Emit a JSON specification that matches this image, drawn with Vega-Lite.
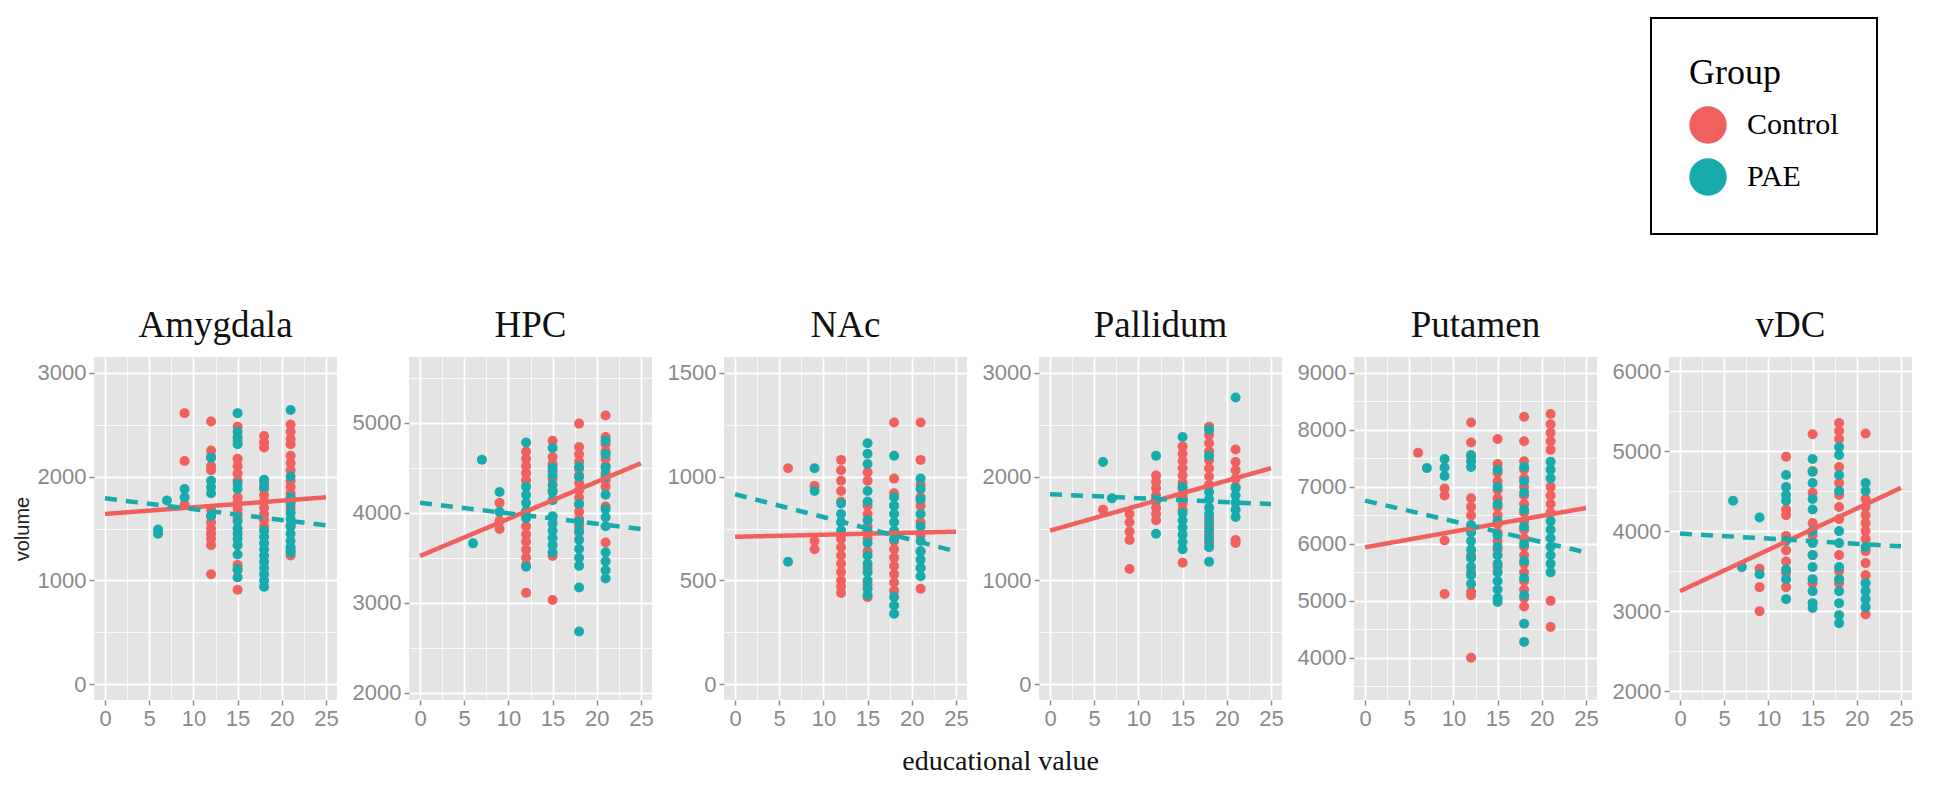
{
  "$schema": "https://vega.github.io/schema/vega-lite/v6.json",
  "padding": {"left": 12, "top": 17, "right": 5, "bottom": 5},
  "background": "white",
  "datasets": {
    "pts": [
      {"region":"Amygdala","group":"Control","edu":9,"volume":2610},{"region":"Amygdala","group":"Control","edu":9,"volume":2150},{"region":"Amygdala","group":"Control","edu":9,"volume":1730},
      {"region":"Amygdala","group":"Control","edu":12,"volume":2530},{"region":"Amygdala","group":"Control","edu":12,"volume":2250},{"region":"Amygdala","group":"Control","edu":12,"volume":2190},{"region":"Amygdala","group":"Control","edu":12,"volume":2100},{"region":"Amygdala","group":"Control","edu":12,"volume":2060},{"region":"Amygdala","group":"Control","edu":12,"volume":1680},{"region":"Amygdala","group":"Control","edu":12,"volume":1620},{"region":"Amygdala","group":"Control","edu":12,"volume":1560},{"region":"Amygdala","group":"Control","edu":12,"volume":1500},{"region":"Amygdala","group":"Control","edu":12,"volume":1450},{"region":"Amygdala","group":"Control","edu":12,"volume":1400},{"region":"Amygdala","group":"Control","edu":12,"volume":1340},{"region":"Amygdala","group":"Control","edu":12,"volume":1060},
      {"region":"Amygdala","group":"Control","edu":15,"volume":2480},{"region":"Amygdala","group":"Control","edu":15,"volume":2350},{"region":"Amygdala","group":"Control","edu":15,"volume":2170},{"region":"Amygdala","group":"Control","edu":15,"volume":2100},{"region":"Amygdala","group":"Control","edu":15,"volume":2030},{"region":"Amygdala","group":"Control","edu":15,"volume":1960},{"region":"Amygdala","group":"Control","edu":15,"volume":1800},{"region":"Amygdala","group":"Control","edu":15,"volume":1750},{"region":"Amygdala","group":"Control","edu":15,"volume":1690},{"region":"Amygdala","group":"Control","edu":15,"volume":1640},{"region":"Amygdala","group":"Control","edu":15,"volume":1600},{"region":"Amygdala","group":"Control","edu":15,"volume":1150},{"region":"Amygdala","group":"Control","edu":15,"volume":1100},{"region":"Amygdala","group":"Control","edu":15,"volume":910},
      {"region":"Amygdala","group":"Control","edu":18,"volume":2390},{"region":"Amygdala","group":"Control","edu":18,"volume":2330},{"region":"Amygdala","group":"Control","edu":18,"volume":2280},{"region":"Amygdala","group":"Control","edu":18,"volume":1940},{"region":"Amygdala","group":"Control","edu":18,"volume":1880},{"region":"Amygdala","group":"Control","edu":18,"volume":1820},{"region":"Amygdala","group":"Control","edu":18,"volume":1760},{"region":"Amygdala","group":"Control","edu":18,"volume":1700},{"region":"Amygdala","group":"Control","edu":18,"volume":1640},{"region":"Amygdala","group":"Control","edu":18,"volume":1580},{"region":"Amygdala","group":"Control","edu":18,"volume":1520},
      {"region":"Amygdala","group":"Control","edu":21,"volume":2500},{"region":"Amygdala","group":"Control","edu":21,"volume":2430},{"region":"Amygdala","group":"Control","edu":21,"volume":2360},{"region":"Amygdala","group":"Control","edu":21,"volume":2310},{"region":"Amygdala","group":"Control","edu":21,"volume":2200},{"region":"Amygdala","group":"Control","edu":21,"volume":2130},{"region":"Amygdala","group":"Control","edu":21,"volume":2060},{"region":"Amygdala","group":"Control","edu":21,"volume":1960},{"region":"Amygdala","group":"Control","edu":21,"volume":1900},{"region":"Amygdala","group":"Control","edu":21,"volume":1840},{"region":"Amygdala","group":"Control","edu":21,"volume":1780},{"region":"Amygdala","group":"Control","edu":21,"volume":1700},{"region":"Amygdala","group":"Control","edu":21,"volume":1530},{"region":"Amygdala","group":"Control","edu":21,"volume":1290},{"region":"Amygdala","group":"Control","edu":21,"volume":1240},
      {"region":"Amygdala","group":"PAE","edu":6,"volume":1490},{"region":"Amygdala","group":"PAE","edu":6,"volume":1450},{"region":"Amygdala","group":"PAE","edu":7,"volume":1770},{"region":"Amygdala","group":"PAE","edu":9,"volume":1880},{"region":"Amygdala","group":"PAE","edu":9,"volume":1800},
      {"region":"Amygdala","group":"PAE","edu":12,"volume":2180},{"region":"Amygdala","group":"PAE","edu":12,"volume":1960},{"region":"Amygdala","group":"PAE","edu":12,"volume":1900},{"region":"Amygdala","group":"PAE","edu":12,"volume":1840},{"region":"Amygdala","group":"PAE","edu":12,"volume":1620},
      {"region":"Amygdala","group":"PAE","edu":15,"volume":2610},{"region":"Amygdala","group":"PAE","edu":15,"volume":2430},{"region":"Amygdala","group":"PAE","edu":15,"volume":2380},{"region":"Amygdala","group":"PAE","edu":15,"volume":2310},{"region":"Amygdala","group":"PAE","edu":15,"volume":1930},{"region":"Amygdala","group":"PAE","edu":15,"volume":1880},{"region":"Amygdala","group":"PAE","edu":15,"volume":1570},{"region":"Amygdala","group":"PAE","edu":15,"volume":1500},{"region":"Amygdala","group":"PAE","edu":15,"volume":1450},{"region":"Amygdala","group":"PAE","edu":15,"volume":1400},{"region":"Amygdala","group":"PAE","edu":15,"volume":1340},{"region":"Amygdala","group":"PAE","edu":15,"volume":1250},{"region":"Amygdala","group":"PAE","edu":15,"volume":1110},{"region":"Amygdala","group":"PAE","edu":15,"volume":1030},
      {"region":"Amygdala","group":"PAE","edu":18,"volume":1970},{"region":"Amygdala","group":"PAE","edu":18,"volume":1900},{"region":"Amygdala","group":"PAE","edu":18,"volume":1480},{"region":"Amygdala","group":"PAE","edu":18,"volume":1420},{"region":"Amygdala","group":"PAE","edu":18,"volume":1360},{"region":"Amygdala","group":"PAE","edu":18,"volume":1300},{"region":"Amygdala","group":"PAE","edu":18,"volume":1240},{"region":"Amygdala","group":"PAE","edu":18,"volume":1180},{"region":"Amygdala","group":"PAE","edu":18,"volume":1120},{"region":"Amygdala","group":"PAE","edu":18,"volume":1060},{"region":"Amygdala","group":"PAE","edu":18,"volume":1000},{"region":"Amygdala","group":"PAE","edu":18,"volume":940},
      {"region":"Amygdala","group":"PAE","edu":21,"volume":2640},{"region":"Amygdala","group":"PAE","edu":21,"volume":2000},{"region":"Amygdala","group":"PAE","edu":21,"volume":1800},{"region":"Amygdala","group":"PAE","edu":21,"volume":1740},{"region":"Amygdala","group":"PAE","edu":21,"volume":1650},{"region":"Amygdala","group":"PAE","edu":21,"volume":1590},{"region":"Amygdala","group":"PAE","edu":21,"volume":1520},{"region":"Amygdala","group":"PAE","edu":21,"volume":1450},{"region":"Amygdala","group":"PAE","edu":21,"volume":1380},{"region":"Amygdala","group":"PAE","edu":21,"volume":1320},{"region":"Amygdala","group":"PAE","edu":21,"volume":1270},

      {"region":"HPC","group":"Control","edu":9,"volume":4110},{"region":"HPC","group":"Control","edu":9,"volume":3910},{"region":"HPC","group":"Control","edu":9,"volume":3820},
      {"region":"HPC","group":"Control","edu":12,"volume":4680},{"region":"HPC","group":"Control","edu":12,"volume":4600},{"region":"HPC","group":"Control","edu":12,"volume":4520},{"region":"HPC","group":"Control","edu":12,"volume":4440},{"region":"HPC","group":"Control","edu":12,"volume":4360},{"region":"HPC","group":"Control","edu":12,"volume":3850},{"region":"HPC","group":"Control","edu":12,"volume":3760},{"region":"HPC","group":"Control","edu":12,"volume":3680},{"region":"HPC","group":"Control","edu":12,"volume":3590},{"region":"HPC","group":"Control","edu":12,"volume":3500},{"region":"HPC","group":"Control","edu":12,"volume":3420},{"region":"HPC","group":"Control","edu":12,"volume":3110},
      {"region":"HPC","group":"Control","edu":15,"volume":4800},{"region":"HPC","group":"Control","edu":15,"volume":4620},{"region":"HPC","group":"Control","edu":15,"volume":4540},{"region":"HPC","group":"Control","edu":15,"volume":4460},{"region":"HPC","group":"Control","edu":15,"volume":4380},{"region":"HPC","group":"Control","edu":15,"volume":4250},{"region":"HPC","group":"Control","edu":15,"volume":3520},{"region":"HPC","group":"Control","edu":15,"volume":3030},
      {"region":"HPC","group":"Control","edu":18,"volume":4990},{"region":"HPC","group":"Control","edu":18,"volume":4730},{"region":"HPC","group":"Control","edu":18,"volume":4650},{"region":"HPC","group":"Control","edu":18,"volume":4570},{"region":"HPC","group":"Control","edu":18,"volume":4490},{"region":"HPC","group":"Control","edu":18,"volume":4410},{"region":"HPC","group":"Control","edu":18,"volume":4330},{"region":"HPC","group":"Control","edu":18,"volume":4250},{"region":"HPC","group":"Control","edu":18,"volume":4170},{"region":"HPC","group":"Control","edu":18,"volume":4090},{"region":"HPC","group":"Control","edu":18,"volume":4010},{"region":"HPC","group":"Control","edu":18,"volume":3930},{"region":"HPC","group":"Control","edu":18,"volume":3850},{"region":"HPC","group":"Control","edu":18,"volume":3780},
      {"region":"HPC","group":"Control","edu":21,"volume":5080},{"region":"HPC","group":"Control","edu":21,"volume":4840},{"region":"HPC","group":"Control","edu":21,"volume":4760},{"region":"HPC","group":"Control","edu":21,"volume":4680},{"region":"HPC","group":"Control","edu":21,"volume":4600},{"region":"HPC","group":"Control","edu":21,"volume":4520},{"region":"HPC","group":"Control","edu":21,"volume":4440},{"region":"HPC","group":"Control","edu":21,"volume":4360},{"region":"HPC","group":"Control","edu":21,"volume":4290},{"region":"HPC","group":"Control","edu":21,"volume":4070},{"region":"HPC","group":"Control","edu":21,"volume":3670},
      {"region":"HPC","group":"PAE","edu":6,"volume":3660},{"region":"HPC","group":"PAE","edu":7,"volume":4590},{"region":"HPC","group":"PAE","edu":9,"volume":4230},{"region":"HPC","group":"PAE","edu":9,"volume":4010},
      {"region":"HPC","group":"PAE","edu":12,"volume":4780},{"region":"HPC","group":"PAE","edu":12,"volume":4290},{"region":"HPC","group":"PAE","edu":12,"volume":4200},{"region":"HPC","group":"PAE","edu":12,"volume":4110},{"region":"HPC","group":"PAE","edu":12,"volume":4020},{"region":"HPC","group":"PAE","edu":12,"volume":3940},{"region":"HPC","group":"PAE","edu":12,"volume":3400},
      {"region":"HPC","group":"PAE","edu":15,"volume":4720},{"region":"HPC","group":"PAE","edu":15,"volume":4500},{"region":"HPC","group":"PAE","edu":15,"volume":4420},{"region":"HPC","group":"PAE","edu":15,"volume":4310},{"region":"HPC","group":"PAE","edu":15,"volume":4230},{"region":"HPC","group":"PAE","edu":15,"volume":4140},{"region":"HPC","group":"PAE","edu":15,"volume":3960},{"region":"HPC","group":"PAE","edu":15,"volume":3880},{"region":"HPC","group":"PAE","edu":15,"volume":3800},{"region":"HPC","group":"PAE","edu":15,"volume":3720},{"region":"HPC","group":"PAE","edu":15,"volume":3640},{"region":"HPC","group":"PAE","edu":15,"volume":3560},
      {"region":"HPC","group":"PAE","edu":18,"volume":4510},{"region":"HPC","group":"PAE","edu":18,"volume":4400},{"region":"HPC","group":"PAE","edu":18,"volume":4100},{"region":"HPC","group":"PAE","edu":18,"volume":3900},{"region":"HPC","group":"PAE","edu":18,"volume":3800},{"region":"HPC","group":"PAE","edu":18,"volume":3700},{"region":"HPC","group":"PAE","edu":18,"volume":3600},{"region":"HPC","group":"PAE","edu":18,"volume":3500},{"region":"HPC","group":"PAE","edu":18,"volume":3410},{"region":"HPC","group":"PAE","edu":18,"volume":3170},{"region":"HPC","group":"PAE","edu":18,"volume":2680},
      {"region":"HPC","group":"PAE","edu":21,"volume":4800},{"region":"HPC","group":"PAE","edu":21,"volume":4650},{"region":"HPC","group":"PAE","edu":21,"volume":4500},{"region":"HPC","group":"PAE","edu":21,"volume":4400},{"region":"HPC","group":"PAE","edu":21,"volume":4200},{"region":"HPC","group":"PAE","edu":21,"volume":4040},{"region":"HPC","group":"PAE","edu":21,"volume":3950},{"region":"HPC","group":"PAE","edu":21,"volume":3850},{"region":"HPC","group":"PAE","edu":21,"volume":3560},{"region":"HPC","group":"PAE","edu":21,"volume":3460},{"region":"HPC","group":"PAE","edu":21,"volume":3360},{"region":"HPC","group":"PAE","edu":21,"volume":3270},

      {"region":"NAc","group":"Control","edu":6,"volume":1040},{"region":"NAc","group":"Control","edu":9,"volume":955},{"region":"NAc","group":"Control","edu":9,"volume":690},{"region":"NAc","group":"Control","edu":9,"volume":650},
      {"region":"NAc","group":"Control","edu":12,"volume":1080},{"region":"NAc","group":"Control","edu":12,"volume":1030},{"region":"NAc","group":"Control","edu":12,"volume":980},{"region":"NAc","group":"Control","edu":12,"volume":930},{"region":"NAc","group":"Control","edu":12,"volume":880},{"region":"NAc","group":"Control","edu":12,"volume":700},{"region":"NAc","group":"Control","edu":12,"volume":660},{"region":"NAc","group":"Control","edu":12,"volume":620},{"region":"NAc","group":"Control","edu":12,"volume":580},{"region":"NAc","group":"Control","edu":12,"volume":540},{"region":"NAc","group":"Control","edu":12,"volume":500},{"region":"NAc","group":"Control","edu":12,"volume":470},{"region":"NAc","group":"Control","edu":12,"volume":440},
      {"region":"NAc","group":"Control","edu":15,"volume":1020},{"region":"NAc","group":"Control","edu":15,"volume":980},{"region":"NAc","group":"Control","edu":15,"volume":860},{"region":"NAc","group":"Control","edu":15,"volume":820},{"region":"NAc","group":"Control","edu":15,"volume":760},{"region":"NAc","group":"Control","edu":15,"volume":700},{"region":"NAc","group":"Control","edu":15,"volume":640},{"region":"NAc","group":"Control","edu":15,"volume":560},{"region":"NAc","group":"Control","edu":15,"volume":480},{"region":"NAc","group":"Control","edu":15,"volume":420},
      {"region":"NAc","group":"Control","edu":18,"volume":1260},{"region":"NAc","group":"Control","edu":18,"volume":990},{"region":"NAc","group":"Control","edu":18,"volume":920},{"region":"NAc","group":"Control","edu":18,"volume":690},{"region":"NAc","group":"Control","edu":18,"volume":650},{"region":"NAc","group":"Control","edu":18,"volume":610},{"region":"NAc","group":"Control","edu":18,"volume":570},{"region":"NAc","group":"Control","edu":18,"volume":530},{"region":"NAc","group":"Control","edu":18,"volume":490},{"region":"NAc","group":"Control","edu":18,"volume":450},
      {"region":"NAc","group":"Control","edu":21,"volume":1260},{"region":"NAc","group":"Control","edu":21,"volume":1080},{"region":"NAc","group":"Control","edu":21,"volume":960},{"region":"NAc","group":"Control","edu":21,"volume":900},{"region":"NAc","group":"Control","edu":21,"volume":860},{"region":"NAc","group":"Control","edu":21,"volume":780},{"region":"NAc","group":"Control","edu":21,"volume":720},{"region":"NAc","group":"Control","edu":21,"volume":640},{"region":"NAc","group":"Control","edu":21,"volume":560},{"region":"NAc","group":"Control","edu":21,"volume":460},
      {"region":"NAc","group":"PAE","edu":6,"volume":590},{"region":"NAc","group":"PAE","edu":9,"volume":1040},{"region":"NAc","group":"PAE","edu":9,"volume":930},
      {"region":"NAc","group":"PAE","edu":12,"volume":870},{"region":"NAc","group":"PAE","edu":12,"volume":820},{"region":"NAc","group":"PAE","edu":12,"volume":780},{"region":"NAc","group":"PAE","edu":12,"volume":740},
      {"region":"NAc","group":"PAE","edu":15,"volume":1160},{"region":"NAc","group":"PAE","edu":15,"volume":1110},{"region":"NAc","group":"PAE","edu":15,"volume":1060},{"region":"NAc","group":"PAE","edu":15,"volume":930},{"region":"NAc","group":"PAE","edu":15,"volume":880},{"region":"NAc","group":"PAE","edu":15,"volume":790},{"region":"NAc","group":"PAE","edu":15,"volume":740},{"region":"NAc","group":"PAE","edu":15,"volume":680},{"region":"NAc","group":"PAE","edu":15,"volume":620},{"region":"NAc","group":"PAE","edu":15,"volume":580},{"region":"NAc","group":"PAE","edu":15,"volume":540},{"region":"NAc","group":"PAE","edu":15,"volume":500},{"region":"NAc","group":"PAE","edu":15,"volume":460},{"region":"NAc","group":"PAE","edu":15,"volume":430},
      {"region":"NAc","group":"PAE","edu":18,"volume":1100},{"region":"NAc","group":"PAE","edu":18,"volume":900},{"region":"NAc","group":"PAE","edu":18,"volume":860},{"region":"NAc","group":"PAE","edu":18,"volume":820},{"region":"NAc","group":"PAE","edu":18,"volume":780},{"region":"NAc","group":"PAE","edu":18,"volume":740},{"region":"NAc","group":"PAE","edu":18,"volume":700},{"region":"NAc","group":"PAE","edu":18,"volume":420},{"region":"NAc","group":"PAE","edu":18,"volume":380},{"region":"NAc","group":"PAE","edu":18,"volume":340},
      {"region":"NAc","group":"PAE","edu":21,"volume":990},{"region":"NAc","group":"PAE","edu":21,"volume":940},{"region":"NAc","group":"PAE","edu":21,"volume":890},{"region":"NAc","group":"PAE","edu":21,"volume":820},{"region":"NAc","group":"PAE","edu":21,"volume":760},{"region":"NAc","group":"PAE","edu":21,"volume":690},{"region":"NAc","group":"PAE","edu":21,"volume":640},{"region":"NAc","group":"PAE","edu":21,"volume":600},{"region":"NAc","group":"PAE","edu":21,"volume":560},{"region":"NAc","group":"PAE","edu":21,"volume":520},

      {"region":"Pallidum","group":"Control","edu":6,"volume":1680},
      {"region":"Pallidum","group":"Control","edu":9,"volume":1640},{"region":"Pallidum","group":"Control","edu":9,"volume":1560},{"region":"Pallidum","group":"Control","edu":9,"volume":1470},{"region":"Pallidum","group":"Control","edu":9,"volume":1390},{"region":"Pallidum","group":"Control","edu":9,"volume":1110},
      {"region":"Pallidum","group":"Control","edu":12,"volume":2010},{"region":"Pallidum","group":"Control","edu":12,"volume":1950},{"region":"Pallidum","group":"Control","edu":12,"volume":1890},{"region":"Pallidum","group":"Control","edu":12,"volume":1820},{"region":"Pallidum","group":"Control","edu":12,"volume":1760},{"region":"Pallidum","group":"Control","edu":12,"volume":1700},{"region":"Pallidum","group":"Control","edu":12,"volume":1640},{"region":"Pallidum","group":"Control","edu":12,"volume":1580},
      {"region":"Pallidum","group":"Control","edu":15,"volume":2290},{"region":"Pallidum","group":"Control","edu":15,"volume":2220},{"region":"Pallidum","group":"Control","edu":15,"volume":2150},{"region":"Pallidum","group":"Control","edu":15,"volume":2080},{"region":"Pallidum","group":"Control","edu":15,"volume":2010},{"region":"Pallidum","group":"Control","edu":15,"volume":1940},{"region":"Pallidum","group":"Control","edu":15,"volume":1880},{"region":"Pallidum","group":"Control","edu":15,"volume":1810},{"region":"Pallidum","group":"Control","edu":15,"volume":1740},{"region":"Pallidum","group":"Control","edu":15,"volume":1680},{"region":"Pallidum","group":"Control","edu":15,"volume":1170},
      {"region":"Pallidum","group":"Control","edu":18,"volume":2480},{"region":"Pallidum","group":"Control","edu":18,"volume":2400},{"region":"Pallidum","group":"Control","edu":18,"volume":2320},{"region":"Pallidum","group":"Control","edu":18,"volume":2240},{"region":"Pallidum","group":"Control","edu":18,"volume":2160},{"region":"Pallidum","group":"Control","edu":18,"volume":2080},{"region":"Pallidum","group":"Control","edu":18,"volume":2000},{"region":"Pallidum","group":"Control","edu":18,"volume":1920},{"region":"Pallidum","group":"Control","edu":18,"volume":1600},{"region":"Pallidum","group":"Control","edu":18,"volume":1520},{"region":"Pallidum","group":"Control","edu":18,"volume":1440},{"region":"Pallidum","group":"Control","edu":18,"volume":1360},
      {"region":"Pallidum","group":"Control","edu":21,"volume":2260},{"region":"Pallidum","group":"Control","edu":21,"volume":2140},{"region":"Pallidum","group":"Control","edu":21,"volume":2060},{"region":"Pallidum","group":"Control","edu":21,"volume":1980},{"region":"Pallidum","group":"Control","edu":21,"volume":1900},{"region":"Pallidum","group":"Control","edu":21,"volume":1390},{"region":"Pallidum","group":"Control","edu":21,"volume":1360},
      {"region":"Pallidum","group":"PAE","edu":6,"volume":2140},{"region":"Pallidum","group":"PAE","edu":7,"volume":1790},
      {"region":"Pallidum","group":"PAE","edu":12,"volume":2200},{"region":"Pallidum","group":"PAE","edu":12,"volume":1780},{"region":"Pallidum","group":"PAE","edu":12,"volume":1450},
      {"region":"Pallidum","group":"PAE","edu":15,"volume":2380},{"region":"Pallidum","group":"PAE","edu":15,"volume":1900},{"region":"Pallidum","group":"PAE","edu":15,"volume":1650},{"region":"Pallidum","group":"PAE","edu":15,"volume":1580},{"region":"Pallidum","group":"PAE","edu":15,"volume":1510},{"region":"Pallidum","group":"PAE","edu":15,"volume":1440},{"region":"Pallidum","group":"PAE","edu":15,"volume":1370},{"region":"Pallidum","group":"PAE","edu":15,"volume":1300},
      {"region":"Pallidum","group":"PAE","edu":18,"volume":2450},{"region":"Pallidum","group":"PAE","edu":18,"volume":2200},{"region":"Pallidum","group":"PAE","edu":18,"volume":1850},{"region":"Pallidum","group":"PAE","edu":18,"volume":1780},{"region":"Pallidum","group":"PAE","edu":18,"volume":1700},{"region":"Pallidum","group":"PAE","edu":18,"volume":1640},{"region":"Pallidum","group":"PAE","edu":18,"volume":1560},{"region":"Pallidum","group":"PAE","edu":18,"volume":1480},{"region":"Pallidum","group":"PAE","edu":18,"volume":1400},{"region":"Pallidum","group":"PAE","edu":18,"volume":1320},{"region":"Pallidum","group":"PAE","edu":18,"volume":1180},
      {"region":"Pallidum","group":"PAE","edu":21,"volume":2760},{"region":"Pallidum","group":"PAE","edu":21,"volume":1890},{"region":"Pallidum","group":"PAE","edu":21,"volume":1820},{"region":"Pallidum","group":"PAE","edu":21,"volume":1750},{"region":"Pallidum","group":"PAE","edu":21,"volume":1680},{"region":"Pallidum","group":"PAE","edu":21,"volume":1610},

      {"region":"Putamen","group":"Control","edu":6,"volume":7600},
      {"region":"Putamen","group":"Control","edu":9,"volume":6970},{"region":"Putamen","group":"Control","edu":9,"volume":6850},{"region":"Putamen","group":"Control","edu":9,"volume":6060},{"region":"Putamen","group":"Control","edu":9,"volume":5120},
      {"region":"Putamen","group":"Control","edu":12,"volume":8130},{"region":"Putamen","group":"Control","edu":12,"volume":7780},{"region":"Putamen","group":"Control","edu":12,"volume":7540},{"region":"Putamen","group":"Control","edu":12,"volume":6800},{"region":"Putamen","group":"Control","edu":12,"volume":6650},{"region":"Putamen","group":"Control","edu":12,"volume":6500},{"region":"Putamen","group":"Control","edu":12,"volume":5800},{"region":"Putamen","group":"Control","edu":12,"volume":5500},{"region":"Putamen","group":"Control","edu":12,"volume":5160},{"region":"Putamen","group":"Control","edu":12,"volume":5100},{"region":"Putamen","group":"Control","edu":12,"volume":4000},
      {"region":"Putamen","group":"Control","edu":15,"volume":7840},{"region":"Putamen","group":"Control","edu":15,"volume":7400},{"region":"Putamen","group":"Control","edu":15,"volume":7250},{"region":"Putamen","group":"Control","edu":15,"volume":7100},{"region":"Putamen","group":"Control","edu":15,"volume":6950},{"region":"Putamen","group":"Control","edu":15,"volume":6800},{"region":"Putamen","group":"Control","edu":15,"volume":6650},{"region":"Putamen","group":"Control","edu":15,"volume":6500},{"region":"Putamen","group":"Control","edu":15,"volume":6350},{"region":"Putamen","group":"Control","edu":15,"volume":6200},{"region":"Putamen","group":"Control","edu":15,"volume":6050},{"region":"Putamen","group":"Control","edu":15,"volume":5900},{"region":"Putamen","group":"Control","edu":15,"volume":5600},
      {"region":"Putamen","group":"Control","edu":18,"volume":8230},{"region":"Putamen","group":"Control","edu":18,"volume":7800},{"region":"Putamen","group":"Control","edu":18,"volume":7450},{"region":"Putamen","group":"Control","edu":18,"volume":7300},{"region":"Putamen","group":"Control","edu":18,"volume":7150},{"region":"Putamen","group":"Control","edu":18,"volume":7000},{"region":"Putamen","group":"Control","edu":18,"volume":6850},{"region":"Putamen","group":"Control","edu":18,"volume":6700},{"region":"Putamen","group":"Control","edu":18,"volume":6550},{"region":"Putamen","group":"Control","edu":18,"volume":6400},{"region":"Putamen","group":"Control","edu":18,"volume":6250},{"region":"Putamen","group":"Control","edu":18,"volume":6100},{"region":"Putamen","group":"Control","edu":18,"volume":5950},{"region":"Putamen","group":"Control","edu":18,"volume":5800},{"region":"Putamen","group":"Control","edu":18,"volume":5650},{"region":"Putamen","group":"Control","edu":18,"volume":5500},{"region":"Putamen","group":"Control","edu":18,"volume":5350},{"region":"Putamen","group":"Control","edu":18,"volume":5200},{"region":"Putamen","group":"Control","edu":18,"volume":5050},{"region":"Putamen","group":"Control","edu":18,"volume":4900},
      {"region":"Putamen","group":"Control","edu":21,"volume":8280},{"region":"Putamen","group":"Control","edu":21,"volume":8100},{"region":"Putamen","group":"Control","edu":21,"volume":7950},{"region":"Putamen","group":"Control","edu":21,"volume":7800},{"region":"Putamen","group":"Control","edu":21,"volume":7650},{"region":"Putamen","group":"Control","edu":21,"volume":7000},{"region":"Putamen","group":"Control","edu":21,"volume":6850},{"region":"Putamen","group":"Control","edu":21,"volume":6700},{"region":"Putamen","group":"Control","edu":21,"volume":6550},{"region":"Putamen","group":"Control","edu":21,"volume":5000},{"region":"Putamen","group":"Control","edu":21,"volume":4540},
      {"region":"Putamen","group":"PAE","edu":7,"volume":7330},{"region":"Putamen","group":"PAE","edu":9,"volume":7490},{"region":"Putamen","group":"PAE","edu":9,"volume":7340},{"region":"Putamen","group":"PAE","edu":9,"volume":7190},
      {"region":"Putamen","group":"PAE","edu":12,"volume":7560},{"region":"Putamen","group":"PAE","edu":12,"volume":7450},{"region":"Putamen","group":"PAE","edu":12,"volume":7350},{"region":"Putamen","group":"PAE","edu":12,"volume":6330},{"region":"Putamen","group":"PAE","edu":12,"volume":6200},{"region":"Putamen","group":"PAE","edu":12,"volume":6050},{"region":"Putamen","group":"PAE","edu":12,"volume":5900},{"region":"Putamen","group":"PAE","edu":12,"volume":5750},{"region":"Putamen","group":"PAE","edu":12,"volume":5600},{"region":"Putamen","group":"PAE","edu":12,"volume":5450},{"region":"Putamen","group":"PAE","edu":12,"volume":5300},
      {"region":"Putamen","group":"PAE","edu":15,"volume":7300},{"region":"Putamen","group":"PAE","edu":15,"volume":7000},{"region":"Putamen","group":"PAE","edu":15,"volume":6700},{"region":"Putamen","group":"PAE","edu":15,"volume":6400},{"region":"Putamen","group":"PAE","edu":15,"volume":6150},{"region":"Putamen","group":"PAE","edu":15,"volume":5950},{"region":"Putamen","group":"PAE","edu":15,"volume":5800},{"region":"Putamen","group":"PAE","edu":15,"volume":5650},{"region":"Putamen","group":"PAE","edu":15,"volume":5500},{"region":"Putamen","group":"PAE","edu":15,"volume":5350},{"region":"Putamen","group":"PAE","edu":15,"volume":5200},{"region":"Putamen","group":"PAE","edu":15,"volume":5050},{"region":"Putamen","group":"PAE","edu":15,"volume":4980},
      {"region":"Putamen","group":"PAE","edu":18,"volume":7350},{"region":"Putamen","group":"PAE","edu":18,"volume":7100},{"region":"Putamen","group":"PAE","edu":18,"volume":6900},{"region":"Putamen","group":"PAE","edu":18,"volume":6600},{"region":"Putamen","group":"PAE","edu":18,"volume":6300},{"region":"Putamen","group":"PAE","edu":18,"volume":6000},{"region":"Putamen","group":"PAE","edu":18,"volume":5700},{"region":"Putamen","group":"PAE","edu":18,"volume":5400},{"region":"Putamen","group":"PAE","edu":18,"volume":5100},{"region":"Putamen","group":"PAE","edu":18,"volume":4600},{"region":"Putamen","group":"PAE","edu":18,"volume":4280},
      {"region":"Putamen","group":"PAE","edu":21,"volume":7440},{"region":"Putamen","group":"PAE","edu":21,"volume":7300},{"region":"Putamen","group":"PAE","edu":21,"volume":7150},{"region":"Putamen","group":"PAE","edu":21,"volume":6400},{"region":"Putamen","group":"PAE","edu":21,"volume":6250},{"region":"Putamen","group":"PAE","edu":21,"volume":6100},{"region":"Putamen","group":"PAE","edu":21,"volume":5950},{"region":"Putamen","group":"PAE","edu":21,"volume":5800},{"region":"Putamen","group":"PAE","edu":21,"volume":5650},{"region":"Putamen","group":"PAE","edu":21,"volume":5500},

      {"region":"vDC","group":"Control","edu":9,"volume":3530},{"region":"vDC","group":"Control","edu":9,"volume":3300},{"region":"vDC","group":"Control","edu":9,"volume":3000},
      {"region":"vDC","group":"Control","edu":12,"volume":4930},{"region":"vDC","group":"Control","edu":12,"volume":4270},{"region":"vDC","group":"Control","edu":12,"volume":4200},{"region":"vDC","group":"Control","edu":12,"volume":3940},{"region":"vDC","group":"Control","edu":12,"volume":3760},{"region":"vDC","group":"Control","edu":12,"volume":3620},{"region":"vDC","group":"Control","edu":12,"volume":3480},{"region":"vDC","group":"Control","edu":12,"volume":3300},
      {"region":"vDC","group":"Control","edu":15,"volume":5210},{"region":"vDC","group":"Control","edu":15,"volume":4750},{"region":"vDC","group":"Control","edu":15,"volume":4480},{"region":"vDC","group":"Control","edu":15,"volume":4100},{"region":"vDC","group":"Control","edu":15,"volume":3950},{"region":"vDC","group":"Control","edu":15,"volume":3700},{"region":"vDC","group":"Control","edu":15,"volume":3350},
      {"region":"vDC","group":"Control","edu":18,"volume":5350},{"region":"vDC","group":"Control","edu":18,"volume":5250},{"region":"vDC","group":"Control","edu":18,"volume":5150},{"region":"vDC","group":"Control","edu":18,"volume":4800},{"region":"vDC","group":"Control","edu":18,"volume":4600},{"region":"vDC","group":"Control","edu":18,"volume":4450},{"region":"vDC","group":"Control","edu":18,"volume":4300},{"region":"vDC","group":"Control","edu":18,"volume":4150},{"region":"vDC","group":"Control","edu":18,"volume":3700},{"region":"vDC","group":"Control","edu":18,"volume":3500},{"region":"vDC","group":"Control","edu":18,"volume":3350},
      {"region":"vDC","group":"Control","edu":21,"volume":5220},{"region":"vDC","group":"Control","edu":21,"volume":4400},{"region":"vDC","group":"Control","edu":21,"volume":4300},{"region":"vDC","group":"Control","edu":21,"volume":4200},{"region":"vDC","group":"Control","edu":21,"volume":4100},{"region":"vDC","group":"Control","edu":21,"volume":4000},{"region":"vDC","group":"Control","edu":21,"volume":3900},{"region":"vDC","group":"Control","edu":21,"volume":3750},{"region":"vDC","group":"Control","edu":21,"volume":3600},{"region":"vDC","group":"Control","edu":21,"volume":3450},{"region":"vDC","group":"Control","edu":21,"volume":2960},
      {"region":"vDC","group":"PAE","edu":6,"volume":4380},{"region":"vDC","group":"PAE","edu":7,"volume":3550},{"region":"vDC","group":"PAE","edu":9,"volume":4170},{"region":"vDC","group":"PAE","edu":9,"volume":3460},
      {"region":"vDC","group":"PAE","edu":12,"volume":4700},{"region":"vDC","group":"PAE","edu":12,"volume":4550},{"region":"vDC","group":"PAE","edu":12,"volume":4450},{"region":"vDC","group":"PAE","edu":12,"volume":4380},{"region":"vDC","group":"PAE","edu":12,"volume":3880},{"region":"vDC","group":"PAE","edu":12,"volume":3520},{"region":"vDC","group":"PAE","edu":12,"volume":3400},{"region":"vDC","group":"PAE","edu":12,"volume":3150},
      {"region":"vDC","group":"PAE","edu":15,"volume":4900},{"region":"vDC","group":"PAE","edu":15,"volume":4740},{"region":"vDC","group":"PAE","edu":15,"volume":4600},{"region":"vDC","group":"PAE","edu":15,"volume":4400},{"region":"vDC","group":"PAE","edu":15,"volume":4270},{"region":"vDC","group":"PAE","edu":15,"volume":4000},{"region":"vDC","group":"PAE","edu":15,"volume":3850},{"region":"vDC","group":"PAE","edu":15,"volume":3700},{"region":"vDC","group":"PAE","edu":15,"volume":3550},{"region":"vDC","group":"PAE","edu":15,"volume":3400},{"region":"vDC","group":"PAE","edu":15,"volume":3250},{"region":"vDC","group":"PAE","edu":15,"volume":3100},{"region":"vDC","group":"PAE","edu":15,"volume":3040},
      {"region":"vDC","group":"PAE","edu":18,"volume":5050},{"region":"vDC","group":"PAE","edu":18,"volume":4950},{"region":"vDC","group":"PAE","edu":18,"volume":4700},{"region":"vDC","group":"PAE","edu":18,"volume":4500},{"region":"vDC","group":"PAE","edu":18,"volume":4000},{"region":"vDC","group":"PAE","edu":18,"volume":3850},{"region":"vDC","group":"PAE","edu":18,"volume":3550},{"region":"vDC","group":"PAE","edu":18,"volume":3400},{"region":"vDC","group":"PAE","edu":18,"volume":3250},{"region":"vDC","group":"PAE","edu":18,"volume":3100},{"region":"vDC","group":"PAE","edu":18,"volume":2950},{"region":"vDC","group":"PAE","edu":18,"volume":2850},
      {"region":"vDC","group":"PAE","edu":21,"volume":4600},{"region":"vDC","group":"PAE","edu":21,"volume":4500},{"region":"vDC","group":"PAE","edu":21,"volume":3800},{"region":"vDC","group":"PAE","edu":21,"volume":3350},{"region":"vDC","group":"PAE","edu":21,"volume":3250},{"region":"vDC","group":"PAE","edu":21,"volume":3150},{"region":"vDC","group":"PAE","edu":21,"volume":3050}
    ],
    "fit": [
      {"region":"Amygdala","group":"Control","edu":0,"volume":1640},{"region":"Amygdala","group":"Control","edu":25,"volume":1800},
      {"region":"Amygdala","group":"PAE","edu":0,"volume":1790},{"region":"Amygdala","group":"PAE","edu":25,"volume":1530},
      {"region":"HPC","group":"Control","edu":0,"volume":3520},{"region":"HPC","group":"Control","edu":25,"volume":4550},
      {"region":"HPC","group":"PAE","edu":0,"volume":4110},{"region":"HPC","group":"PAE","edu":25,"volume":3820},
      {"region":"NAc","group":"Control","edu":0,"volume":710},{"region":"NAc","group":"Control","edu":25,"volume":735},
      {"region":"NAc","group":"PAE","edu":0,"volume":915},{"region":"NAc","group":"PAE","edu":25,"volume":640},
      {"region":"Pallidum","group":"Control","edu":0,"volume":1480},{"region":"Pallidum","group":"Control","edu":25,"volume":2080},
      {"region":"Pallidum","group":"PAE","edu":0,"volume":1830},{"region":"Pallidum","group":"PAE","edu":25,"volume":1735},
      {"region":"Putamen","group":"Control","edu":0,"volume":5940},{"region":"Putamen","group":"Control","edu":25,"volume":6630},
      {"region":"Putamen","group":"PAE","edu":0,"volume":6760},{"region":"Putamen","group":"PAE","edu":25,"volume":5850},
      {"region":"vDC","group":"Control","edu":0,"volume":3250},{"region":"vDC","group":"Control","edu":25,"volume":4540},
      {"region":"vDC","group":"PAE","edu":0,"volume":3970},{"region":"vDC","group":"PAE","edu":25,"volume":3810}
    ]
  },
  "title": {"text": "educational value", "orient": "bottom", "anchor": "middle", "frame": "bounds", "font": "Liberation Serif", "fontSize": 28, "fontWeight": "normal", "color": "#111111", "offset": 19, "dx": 38},
  "spacing": 10,
  "resolve": {"scale": {"color": "shared"}, "legend": {"color": "shared"}},
  "hconcat": [
    {
      "title": "Amygdala", "width": 243, "height": 343,
      "layer": [
        {
          "data": {"name": "pts"}, "transform": [{"filter": "datum.region === 'Amygdala'"}],
          "mark": {"type": "point", "filled": true, "size": 100, "opacity": 1},
          "encoding": {
            "x": {"field": "edu", "type": "quantitative", "scale": {"domain": [-1.25, 26.25], "nice": false, "zero": false}, "axis": {"orient": "bottom", "values": [0, 5, 10, 15, 20, 25], "title": null}},
            "y": {"field": "volume", "type": "quantitative", "scale": {"domain": [-150, 3150], "nice": false, "zero": false}, "axis": {"orient": "left", "values": [0, 1000, 2000, 3000], "title": "volume"}},
            "color": {"field": "group", "type": "nominal", "title": "Group", "scale": {"domain": ["Control", "PAE"], "range": ["#f0615d", "#17abae"]}, "legend": {"orient": "none", "legendX": 1557, "legendY": -339}}
          }
        },
        {
          "data": {"name": "fit"}, "transform": [{"filter": "datum.region === 'Amygdala'"}],
          "mark": {"type": "line", "strokeWidth": 4.5},
          "encoding": {
            "x": {"field": "edu", "type": "quantitative", "scale": {"domain": [-1.25, 26.25], "nice": false, "zero": false}, "axis": {"orient": "top", "values": [2.5, 7.5, 12.5, 17.5, 22.5], "grid": true, "gridWidth": 0.8, "labels": false, "ticks": false, "domain": false, "title": null, "minExtent": 0, "maxExtent": 0}},
            "y": {"field": "volume", "type": "quantitative", "scale": {"domain": [-150, 3150], "nice": false, "zero": false}, "axis": {"orient": "right", "values": [500, 1500, 2500], "grid": true, "gridWidth": 0.8, "labels": false, "ticks": false, "domain": false, "title": null, "minExtent": 0, "maxExtent": 0}},
            "stroke": {"field": "group", "type": "nominal", "scale": {"domain": ["Control", "PAE"], "range": ["#f0615d", "#17abae"]}, "legend": null},
            "strokeDash": {"field": "group", "type": "nominal", "scale": {"domain": ["Control", "PAE"], "range": [[1, 0], [12, 9]]}, "legend": null}
          }
        }
      ],
      "resolve": {"axis": {"x": "independent", "y": "independent"}}
    },
    {
      "title": "HPC", "width": 243, "height": 343,
      "layer": [
        {
          "data": {"name": "pts"}, "transform": [{"filter": "datum.region === 'HPC'"}],
          "mark": {"type": "point", "filled": true, "size": 100, "opacity": 1},
          "encoding": {
            "x": {"field": "edu", "type": "quantitative", "scale": {"domain": [-1.25, 26.25], "nice": false, "zero": false}, "axis": {"orient": "bottom", "values": [0, 5, 10, 15, 20, 25], "title": null}},
            "y": {"field": "volume", "type": "quantitative", "scale": {"domain": [1920, 5730], "nice": false, "zero": false}, "axis": {"orient": "left", "values": [2000, 3000, 4000, 5000], "title": null}},
            "color": {"field": "group", "type": "nominal", "title": "Group", "scale": {"domain": ["Control", "PAE"], "range": ["#f0615d", "#17abae"]}, "legend": {"orient": "none", "legendX": 1557, "legendY": -339}}
          }
        },
        {
          "data": {"name": "fit"}, "transform": [{"filter": "datum.region === 'HPC'"}],
          "mark": {"type": "line", "strokeWidth": 4.5},
          "encoding": {
            "x": {"field": "edu", "type": "quantitative", "scale": {"domain": [-1.25, 26.25], "nice": false, "zero": false}, "axis": {"orient": "top", "values": [2.5, 7.5, 12.5, 17.5, 22.5], "grid": true, "gridWidth": 0.8, "labels": false, "ticks": false, "domain": false, "title": null, "minExtent": 0, "maxExtent": 0}},
            "y": {"field": "volume", "type": "quantitative", "scale": {"domain": [1920, 5730], "nice": false, "zero": false}, "axis": {"orient": "right", "values": [2500, 3500, 4500, 5500], "grid": true, "gridWidth": 0.8, "labels": false, "ticks": false, "domain": false, "title": null, "minExtent": 0, "maxExtent": 0}},
            "stroke": {"field": "group", "type": "nominal", "scale": {"domain": ["Control", "PAE"], "range": ["#f0615d", "#17abae"]}, "legend": null},
            "strokeDash": {"field": "group", "type": "nominal", "scale": {"domain": ["Control", "PAE"], "range": [[1, 0], [12, 9]]}, "legend": null}
          }
        }
      ],
      "resolve": {"axis": {"x": "independent", "y": "independent"}}
    },
    {
      "title": "NAc", "width": 243, "height": 343,
      "layer": [
        {
          "data": {"name": "pts"}, "transform": [{"filter": "datum.region === 'NAc'"}],
          "mark": {"type": "point", "filled": true, "size": 100, "opacity": 1},
          "encoding": {
            "x": {"field": "edu", "type": "quantitative", "scale": {"domain": [-1.25, 26.25], "nice": false, "zero": false}, "axis": {"orient": "bottom", "values": [0, 5, 10, 15, 20, 25], "title": null}},
            "y": {"field": "volume", "type": "quantitative", "scale": {"domain": [-75, 1575], "nice": false, "zero": false}, "axis": {"orient": "left", "values": [0, 500, 1000, 1500], "title": null}},
            "color": {"field": "group", "type": "nominal", "title": "Group", "scale": {"domain": ["Control", "PAE"], "range": ["#f0615d", "#17abae"]}, "legend": {"orient": "none", "legendX": 1557, "legendY": -339}}
          }
        },
        {
          "data": {"name": "fit"}, "transform": [{"filter": "datum.region === 'NAc'"}],
          "mark": {"type": "line", "strokeWidth": 4.5},
          "encoding": {
            "x": {"field": "edu", "type": "quantitative", "scale": {"domain": [-1.25, 26.25], "nice": false, "zero": false}, "axis": {"orient": "top", "values": [2.5, 7.5, 12.5, 17.5, 22.5], "grid": true, "gridWidth": 0.8, "labels": false, "ticks": false, "domain": false, "title": null, "minExtent": 0, "maxExtent": 0}},
            "y": {"field": "volume", "type": "quantitative", "scale": {"domain": [-75, 1575], "nice": false, "zero": false}, "axis": {"orient": "right", "values": [250, 750, 1250], "grid": true, "gridWidth": 0.8, "labels": false, "ticks": false, "domain": false, "title": null, "minExtent": 0, "maxExtent": 0}},
            "stroke": {"field": "group", "type": "nominal", "scale": {"domain": ["Control", "PAE"], "range": ["#f0615d", "#17abae"]}, "legend": null},
            "strokeDash": {"field": "group", "type": "nominal", "scale": {"domain": ["Control", "PAE"], "range": [[1, 0], [12, 9]]}, "legend": null}
          }
        }
      ],
      "resolve": {"axis": {"x": "independent", "y": "independent"}}
    },
    {
      "title": "Pallidum", "width": 243, "height": 343,
      "layer": [
        {
          "data": {"name": "pts"}, "transform": [{"filter": "datum.region === 'Pallidum'"}],
          "mark": {"type": "point", "filled": true, "size": 100, "opacity": 1},
          "encoding": {
            "x": {"field": "edu", "type": "quantitative", "scale": {"domain": [-1.25, 26.25], "nice": false, "zero": false}, "axis": {"orient": "bottom", "values": [0, 5, 10, 15, 20, 25], "title": null}},
            "y": {"field": "volume", "type": "quantitative", "scale": {"domain": [-150, 3150], "nice": false, "zero": false}, "axis": {"orient": "left", "values": [0, 1000, 2000, 3000], "title": null}},
            "color": {"field": "group", "type": "nominal", "title": "Group", "scale": {"domain": ["Control", "PAE"], "range": ["#f0615d", "#17abae"]}, "legend": {"orient": "none", "legendX": 1557, "legendY": -339}}
          }
        },
        {
          "data": {"name": "fit"}, "transform": [{"filter": "datum.region === 'Pallidum'"}],
          "mark": {"type": "line", "strokeWidth": 4.5},
          "encoding": {
            "x": {"field": "edu", "type": "quantitative", "scale": {"domain": [-1.25, 26.25], "nice": false, "zero": false}, "axis": {"orient": "top", "values": [2.5, 7.5, 12.5, 17.5, 22.5], "grid": true, "gridWidth": 0.8, "labels": false, "ticks": false, "domain": false, "title": null, "minExtent": 0, "maxExtent": 0}},
            "y": {"field": "volume", "type": "quantitative", "scale": {"domain": [-150, 3150], "nice": false, "zero": false}, "axis": {"orient": "right", "values": [500, 1500, 2500], "grid": true, "gridWidth": 0.8, "labels": false, "ticks": false, "domain": false, "title": null, "minExtent": 0, "maxExtent": 0}},
            "stroke": {"field": "group", "type": "nominal", "scale": {"domain": ["Control", "PAE"], "range": ["#f0615d", "#17abae"]}, "legend": null},
            "strokeDash": {"field": "group", "type": "nominal", "scale": {"domain": ["Control", "PAE"], "range": [[1, 0], [12, 9]]}, "legend": null}
          }
        }
      ],
      "resolve": {"axis": {"x": "independent", "y": "independent"}}
    },
    {
      "title": "Putamen", "width": 243, "height": 343,
      "layer": [
        {
          "data": {"name": "pts"}, "transform": [{"filter": "datum.region === 'Putamen'"}],
          "mark": {"type": "point", "filled": true, "size": 100, "opacity": 1},
          "encoding": {
            "x": {"field": "edu", "type": "quantitative", "scale": {"domain": [-1.25, 26.25], "nice": false, "zero": false}, "axis": {"orient": "bottom", "values": [0, 5, 10, 15, 20, 25], "title": null}},
            "y": {"field": "volume", "type": "quantitative", "scale": {"domain": [3260, 9280], "nice": false, "zero": false}, "axis": {"orient": "left", "values": [4000, 5000, 6000, 7000, 8000, 9000], "title": null}},
            "color": {"field": "group", "type": "nominal", "title": "Group", "scale": {"domain": ["Control", "PAE"], "range": ["#f0615d", "#17abae"]}, "legend": {"orient": "none", "legendX": 1557, "legendY": -339}}
          }
        },
        {
          "data": {"name": "fit"}, "transform": [{"filter": "datum.region === 'Putamen'"}],
          "mark": {"type": "line", "strokeWidth": 4.5},
          "encoding": {
            "x": {"field": "edu", "type": "quantitative", "scale": {"domain": [-1.25, 26.25], "nice": false, "zero": false}, "axis": {"orient": "top", "values": [2.5, 7.5, 12.5, 17.5, 22.5], "grid": true, "gridWidth": 0.8, "labels": false, "ticks": false, "domain": false, "title": null, "minExtent": 0, "maxExtent": 0}},
            "y": {"field": "volume", "type": "quantitative", "scale": {"domain": [3260, 9280], "nice": false, "zero": false}, "axis": {"orient": "right", "values": [3500, 4500, 5500, 6500, 7500, 8500], "grid": true, "gridWidth": 0.8, "labels": false, "ticks": false, "domain": false, "title": null, "minExtent": 0, "maxExtent": 0}},
            "stroke": {"field": "group", "type": "nominal", "scale": {"domain": ["Control", "PAE"], "range": ["#f0615d", "#17abae"]}, "legend": null},
            "strokeDash": {"field": "group", "type": "nominal", "scale": {"domain": ["Control", "PAE"], "range": [[1, 0], [12, 9]]}, "legend": null}
          }
        }
      ],
      "resolve": {"axis": {"x": "independent", "y": "independent"}}
    },
    {
      "title": "vDC", "width": 243, "height": 343,
      "layer": [
        {
          "data": {"name": "pts"}, "transform": [{"filter": "datum.region === 'vDC'"}],
          "mark": {"type": "point", "filled": true, "size": 100, "opacity": 1},
          "encoding": {
            "x": {"field": "edu", "type": "quantitative", "scale": {"domain": [-1.25, 26.25], "nice": false, "zero": false}, "axis": {"orient": "bottom", "values": [0, 5, 10, 15, 20, 25], "title": null}},
            "y": {"field": "volume", "type": "quantitative", "scale": {"domain": [1890, 6175], "nice": false, "zero": false}, "axis": {"orient": "left", "values": [2000, 3000, 4000, 5000, 6000], "title": null}},
            "color": {"field": "group", "type": "nominal", "title": "Group", "scale": {"domain": ["Control", "PAE"], "range": ["#f0615d", "#17abae"]}, "legend": {"orient": "none", "legendX": 1557, "legendY": -339}}
          }
        },
        {
          "data": {"name": "fit"}, "transform": [{"filter": "datum.region === 'vDC'"}],
          "mark": {"type": "line", "strokeWidth": 4.5},
          "encoding": {
            "x": {"field": "edu", "type": "quantitative", "scale": {"domain": [-1.25, 26.25], "nice": false, "zero": false}, "axis": {"orient": "top", "values": [2.5, 7.5, 12.5, 17.5, 22.5], "grid": true, "gridWidth": 0.8, "labels": false, "ticks": false, "domain": false, "title": null, "minExtent": 0, "maxExtent": 0}},
            "y": {"field": "volume", "type": "quantitative", "scale": {"domain": [1890, 6175], "nice": false, "zero": false}, "axis": {"orient": "right", "values": [2500, 3500, 4500, 5500], "grid": true, "gridWidth": 0.8, "labels": false, "ticks": false, "domain": false, "title": null, "minExtent": 0, "maxExtent": 0}},
            "stroke": {"field": "group", "type": "nominal", "scale": {"domain": ["Control", "PAE"], "range": ["#f0615d", "#17abae"]}, "legend": null},
            "strokeDash": {"field": "group", "type": "nominal", "scale": {"domain": ["Control", "PAE"], "range": [[1, 0], [12, 9]]}, "legend": null}
          }
        }
      ],
      "resolve": {"axis": {"x": "independent", "y": "independent"}}
    }
  ],
  "config": {
    "view": {"fill": "#e4e4e4", "stroke": null},
    "title": {"font": "Liberation Serif", "fontSize": 37, "fontWeight": "normal", "color": "#111111", "anchor": "middle", "frame": "group", "offset": 12},
    "axis": {
      "labelFont": "Liberation Sans", "labelFontSize": 22, "labelColor": "#8a8a8a", "labelPadding": 3, "labelFlush": false, "format": "d",
      "tickColor": "#8a8a8a", "tickSize": 5, "tickWidth": 1.5, "domain": false,
      "grid": true, "gridColor": "#ffffff", "gridWidth": 1.8,
      "titleFont": "Liberation Sans", "titleFontSize": 20, "titleFontWeight": "normal", "titleColor": "#222222", "titlePadding": 2
    },
    "axisY": {"minExtent": 60, "maxExtent": 60},
    "legend": {
      "padding": 38, "strokeColor": "#000000", "strokeWidth": 2, "fillColor": "#ffffff",
      "titleFont": "Liberation Serif", "titleFontSize": 36, "titleFontWeight": "normal", "titleColor": "#000000", "titlePadding": 14,
      "labelFont": "Liberation Serif", "labelFontSize": 30, "labelColor": "#000000", "labelOffset": 20,
      "symbolSize": 1400, "symbolType": "circle", "symbolStrokeWidth": 0, "rowPadding": 14
    }
  }
}
